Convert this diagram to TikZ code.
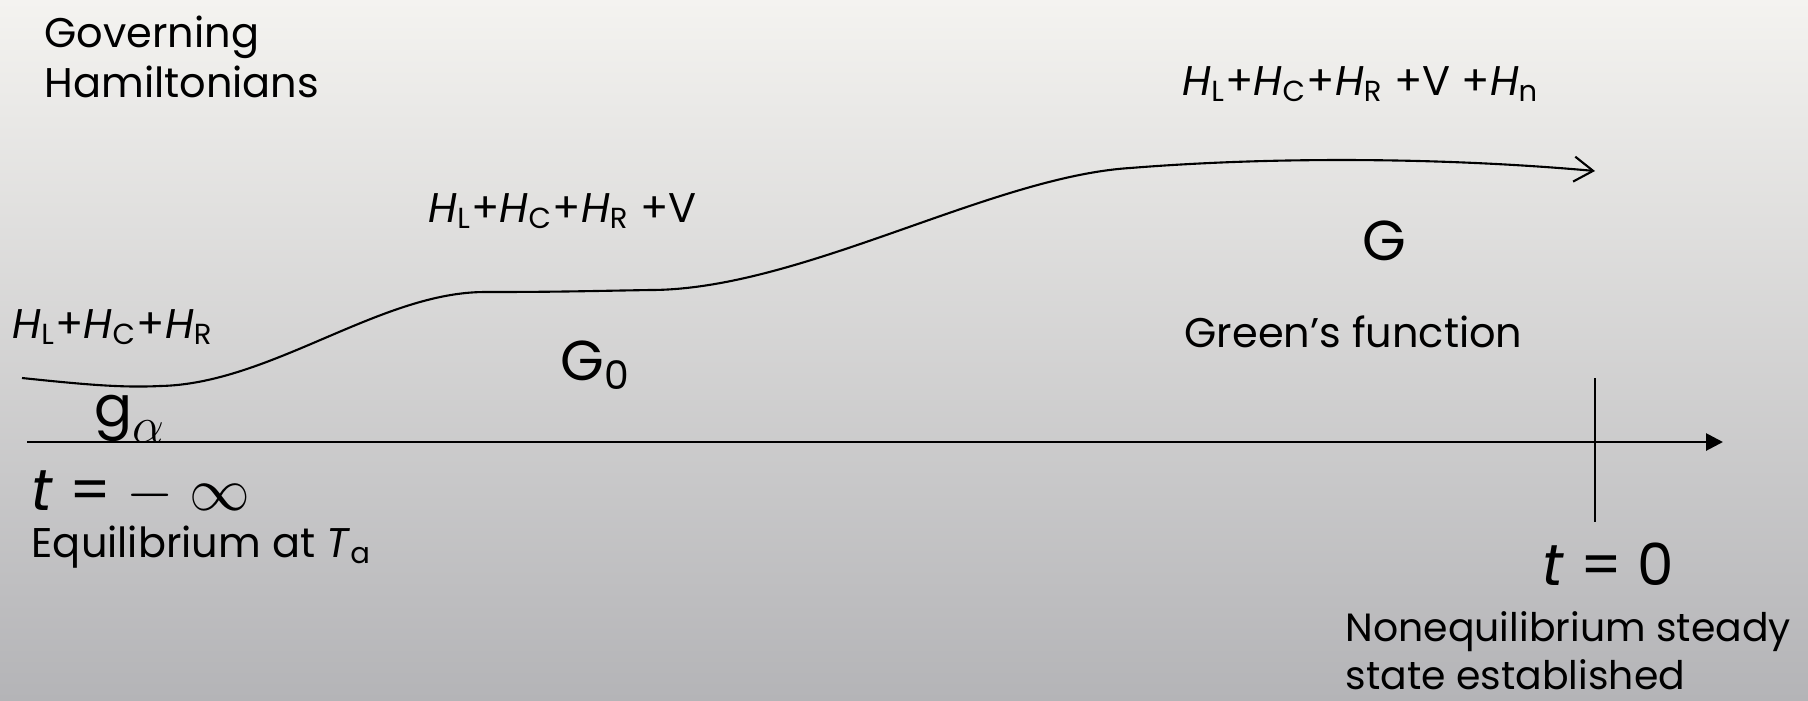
\documentclass[tikz,border=0pt]{standalone}
\usepackage{fontspec}
\setmainfont{Poppins}
\usetikzlibrary{arrows.meta}
\definecolor{bgtop}{RGB}{244,243,240}
\definecolor{bgmid}{RGB}{232,232,231}
\definecolor{bgbot}{RGB}{180,180,183}
\newcommand{\hsub}[1]{\textit{H}\textsubscript{#1}}

\begin{document}
\begin{tikzpicture}[
  x=0.1mm, y=-0.1mm,
  lbl/.style={font=\fontsize{11.8}{14.2}\selectfont, anchor=base west, inner sep=0pt, align=left},
  big/.style={lbl, font=\fontsize{16.5}{20}\selectfont},
  gee/.style={lbl, font=\fontsize{16}{19}\selectfont},
  axis/.style={line width=0.8pt, -{Triangle[length=1.7mm, width=1.7mm]}},
  flow/.style={line width=0.6pt, -{Straight Barb[length=1.9mm, width=2.5mm]}},
]
\shade[top color=bgtop, middle color=bgmid, bottom color=bgbot] (0,0) rectangle (1808,700);
\useasboundingbox (0,0) rectangle (1808,700);

% multi-line labels sit on the baseline of their last line
\node[lbl] (gov) at (44,97) {Governing\\Hamiltonians};
\node[lbl] (h0) at (12,338) {\hsub{L}+\hsub{C}+\hsub{R}};
\node[lbl] (h1) at (428,222) {\hsub{L}+\hsub{C}+\hsub{R} +V};
\node[lbl] (h2) at (1182,95) {\hsub{L}+\hsub{C}+\hsub{R} +V +\hsub{n}};

\node[gee] (ga) at (94,426) {g\raisebox{-0.3em}{\fontsize{14}{14}\selectfont$\alpha$}};
\node[gee] (g0) at (560,380) {G\textsubscript{0}};
\node[gee] (gg) at (1362,260) {G};
\node[lbl] (green) at (1184,347) {Green’s function};

\node[big] (tinf) at (31,510) {\textit{t} = $-$ $\infty$};
\node[lbl] (equil) at (31,557) {Equilibrium at \textit{T}\textsubscript{a}};
\node[big] (tzero) at (1542,585) {\textit{t} = 0};
\node[lbl, font=\fontsize{11.2}{13.4}\selectfont] (neq) at (1345,689) {Nonequilibrium steady\\state established};

\coordinate (axL) at (27,442);
\coordinate (axR) at (1723,442);
\coordinate (tkT) at (1595,378);
\coordinate (tkB) at (1595,522);
\coordinate (c0) at (22,378);
\coordinate (c1) at (160,386);
\coordinate (c2) at (485,292);
\coordinate (c3) at (650,290);
\coordinate (c4) at (1130,168);
\coordinate (c5) at (1595,171);

\draw[axis] (axL) -- (axR);
\draw[line width=0.5pt] (tkT) -- (tkB);
\draw[flow] (c0) .. controls (80,384) and (120,388) .. (c1)
  .. controls (270,384) and (380,292) .. (c2)
  .. controls (560,292) and (590,291) .. (c3)
  .. controls (800,290) and (990,177) .. (c4)
  .. controls (1280,156) and (1450,158) .. (c5);
\end{tikzpicture}
\end{document}
